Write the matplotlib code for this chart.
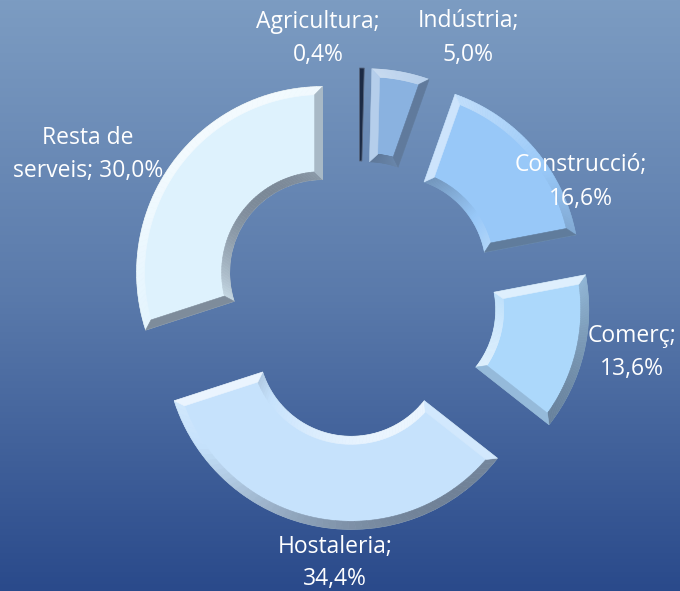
import numpy as np
import matplotlib
matplotlib.use("Agg")
import matplotlib.pyplot as plt
from matplotlib.collections import PolyCollection
from matplotlib.colors import to_rgb, LinearSegmentedColormap

# ---- data ----
categories = ['Agricultura', 'Indústria', 'Construcció', 'Comerç', 'Hostaleria', 'Resta de serveis']
shares = [0.4, 5.0, 16.6, 13.6, 34.4, 30.0]
colors = ['#1c2a44', '#8ab2e0', '#98c8f8', '#acd8fb', '#c6e2fc', '#def2fd']

W, H = 680, 591
fig = plt.figure(figsize=(W / 100, H / 100), dpi=100)

# background gradient
bg = fig.add_axes([0, 0, 1, 1], zorder=0)
cmap = LinearSegmentedColormap.from_list('bg', ['#7c9cc2', '#5a7aab', '#2a4a8b'])
grad = np.linspace(0, 1, 256).reshape(-1, 1)
bg.imshow(grad, aspect='auto', cmap=cmap, extent=[0, 1, 0, 1], origin='upper')
bg.set_axis_off()

ax = fig.add_axes([0, 0, 1, 1], zorder=1)
ax.patch.set_alpha(0)

cx, cy = 359, H - 299
R = 186
ring = 93
expl = 45

wedges, _ = ax.pie(shares, colors=colors, radius=R, center=(cx, cy),
                   startangle=90, counterclock=False,
                   explode=[expl] * len(shares),
                   wedgeprops=dict(width=ring, linewidth=0))


def mix(c, other, t):
    a = np.array(to_rgb(c)); b = np.array(to_rgb(other))
    t = min(max(t, 0), 1)
    return tuple(a * (1 - t) + b * t)


L = np.array([-0.55, 0.85]); L = L / np.linalg.norm(L)


def shade(col, n):
    s = float(np.dot(n, L))
    if s >= 0:
        return mix(col, 'white', 0.65 * s)
    return mix(col, '#2a3244', 0.55 * (-s))


bev = 8
for w, col in zip(wedges, colors):
    c = np.array(w.center)
    ro, ri = w.r, w.r - w.width
    t1, t2 = np.radians(w.theta1), np.radians(w.theta2)
    span = t2 - t1
    if span * (ri + bev) < 3 * bev:
        w.set_edgecolor(mix(col, '#90a0b8', 0.5))
        w.set_linewidth(0.6)
        continue
    polys, cols = [], []
    ro2, ri2 = ro - bev, ri + bev
    n = 60
    ta = np.linspace(t1, t2, n)
    da = bev / ro2
    sa = np.linspace(t1 + da, t2 - da, n)
    P = c + ro * np.c_[np.cos(ta), np.sin(ta)]
    Q = c + ro2 * np.c_[np.cos(sa), np.sin(sa)]
    for i in range(n - 1):
        polys.append([P[i], P[i + 1], Q[i + 1], Q[i]])
        tm = 0.5 * (ta[i] + ta[i + 1])
        cols.append(shade(col, np.array([np.cos(tm), np.sin(tm)])))
    db = bev / ri2
    tb = np.linspace(t1, t2, n)
    sb = np.linspace(t1 + db, t2 - db, n)
    Pi = c + ri * np.c_[np.cos(tb), np.sin(tb)]
    Qi = c + ri2 * np.c_[np.cos(sb), np.sin(sb)]
    for i in range(n - 1):
        polys.append([Pi[i], Pi[i + 1], Qi[i + 1], Qi[i]])
        tm = 0.5 * (tb[i] + tb[i + 1])
        cols.append(shade(col, -np.array([np.cos(tm), np.sin(tm)])))
    polys.append([P[-1], Pi[-1], Qi[-1], Q[-1]])
    cols.append(shade(col, np.array([-np.sin(t2), np.cos(t2)])))
    polys.append([P[0], Pi[0], Qi[0], Q[0]])
    cols.append(shade(col, np.array([np.sin(t1), -np.cos(t1)])))
    pc = PolyCollection(polys, facecolors=cols, edgecolors=cols, linewidths=0.4, zorder=3)
    ax.add_collection(pc)
    w.set_edgecolor(mix(col, '#2a3244', 0.3))
    w.set_linewidth(0.6)

ax.set_xlim(0, W)
ax.set_ylim(0, H)
ax.set_aspect('equal')
ax.set_axis_off()


def fmt(v):
    return f"{v:.1f}%".replace('.', ',')


label_pos = [(318, 38), (468, 38), (581, 182), (632, 352), (335, 563), (88, 155)]
for cat, v, (lx, ly) in zip(categories, shares, label_pos):
    parts = cat.split(' ')
    if len(parts) > 2:
        txt = ' '.join(parts[:2]) + '\n' + ' '.join(parts[2:]) + '; ' + fmt(v)
    else:
        txt = f"{cat};\n{fmt(v)}"
    ax.text(lx, H - ly, txt, ha='center', va='center', multialignment='center',
            color='white', fontsize=16.5, family=['Open Sans', 'DejaVu Sans'],
            linespacing=1.5, zorder=5)

fig.savefig('out.png', dpi=100)
